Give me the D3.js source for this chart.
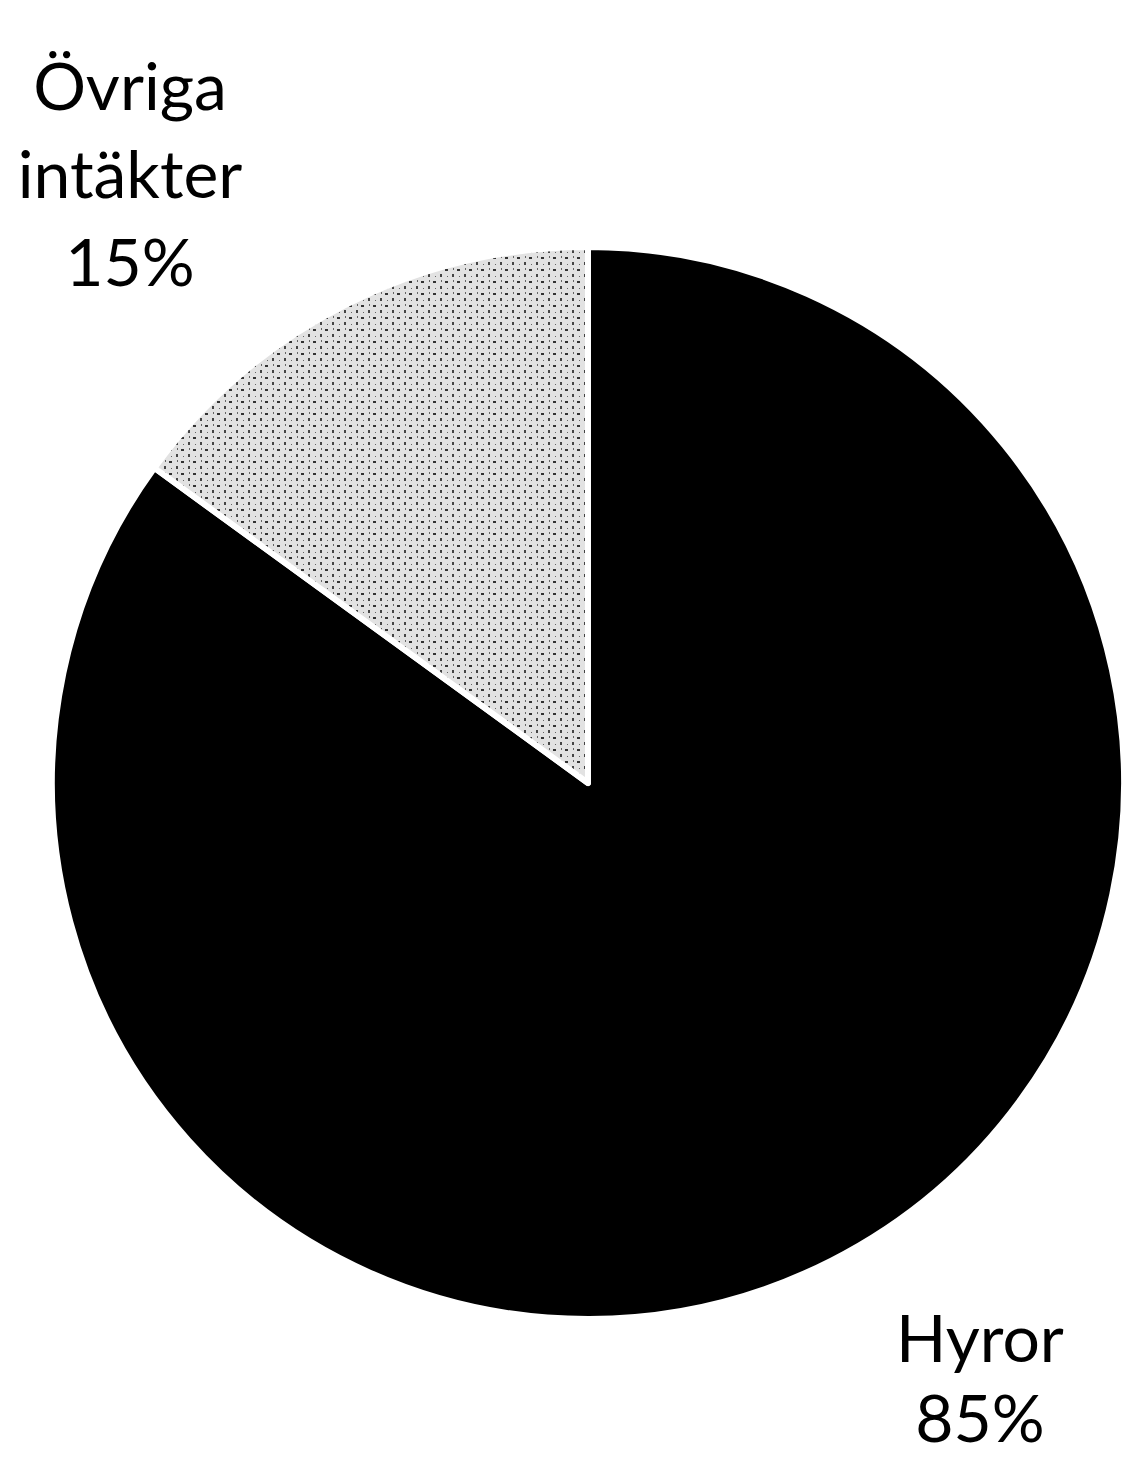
<!DOCTYPE html>
<html>
<head>
<meta charset="utf-8">
<script src="https://cdn.jsdelivr.net/npm/d3@7"></script>
<style>
  html, body { margin: 0; padding: 0; background: #fff; }
  svg { display: block; }
</style>
</head>
<body>
<svg id="chart" width="1125" height="1460"></svg>
<script>
// data
const categories = ["Hyror", "Övriga intäkter"];
const shares = [85, 15];
const labelLines = [["Hyror", "85%"], ["Övriga", "intäkter", "15%"]];
const colors = ["#000000", "#e2e2e2"];

const svg = d3.select("#chart");
const cx = 588, cy = 783, r = 536;

// speckle pattern for the light slice
const defs = svg.append("defs");
const pat = defs.append("pattern")
  .attr("id", "speckle")
  .attr("width", 12).attr("height", 12)
  .attr("patternUnits", "userSpaceOnUse");
pat.append("rect").attr("width", 12).attr("height", 12).attr("fill", colors[1]);
pat.append("rect").attr("x", 1).attr("y", 2).attr("width", 3).attr("height", 2).attr("fill", "#333");
pat.append("rect").attr("x", 8).attr("y", 7).attr("width", 2).attr("height", 3).attr("fill", "#444");
pat.append("rect").attr("x", 9).attr("y", 1).attr("width", 1).attr("height", 2).attr("fill", "#666");
pat.append("rect").attr("x", 3).attr("y", 9).attr("width", 1).attr("height", 1).attr("fill", "#666");

const pie = d3.pie().sort(null).value(d => d)
  .startAngle(0).endAngle(2 * Math.PI);
const arcs = pie(shares);
const arc = d3.arc().innerRadius(0).outerRadius(r);

const g = svg.append("g").attr("transform", `translate(${cx},${cy})`);

g.selectAll("path")
  .data(arcs)
  .join("path")
  .attr("d", arc)
  .attr("fill", (d, i) => i === 1 ? "url(#speckle)" : colors[i])
  .attr("stroke", "#fff")
  .attr("stroke-width", 6)
  .attr("stroke-linejoin", "round");

// labels
const labelPos = [[980, 1362], [130, 110]];
const lineH = [80, 88];

labelLines.forEach((lines, i) => {
  const t = svg.append("text")
    .attr("x", labelPos[i][0])
    .attr("y", labelPos[i][1])
    .attr("text-anchor", "middle")
    .attr("font-family", "Lato, 'Noto Sans', sans-serif")
    .attr("font-size", 66)
    .attr("fill", "#000");
  lines.forEach((s, j) => {
    t.append("tspan")
      .attr("x", labelPos[i][0])
      .attr("dy", j === 0 ? 0 : lineH[i])
      .text(s);
  });
});
</script>
</body>
</html>
